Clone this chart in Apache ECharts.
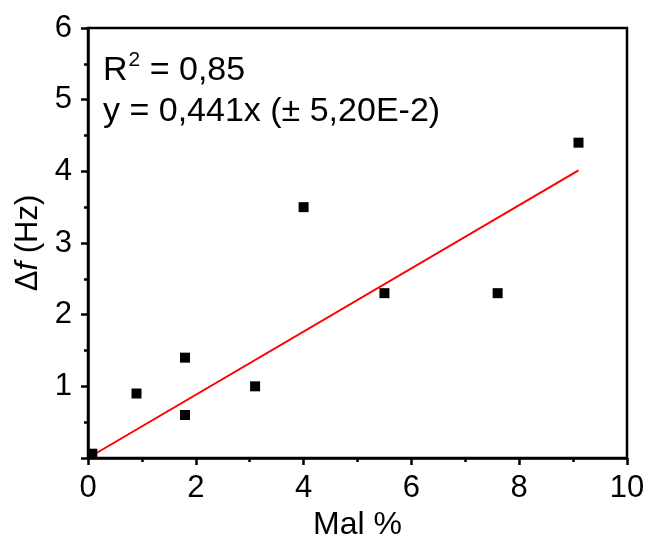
<!DOCTYPE html>
<html><head><meta charset="utf-8">
<script src="https://cdn.jsdelivr.net/npm/echarts@6/dist/echarts.min.js"></script>
<style>html,body{margin:0;padding:0;background:#fff}#c{width:651px;height:539px}</style>
</head><body><div id="c"></div>
<script>
const malPct = [0.08, 0.9, 1.8, 1.8, 3.1, 4.0, 5.5, 7.6, 9.1];
const deltaF = [0.06, 0.9, 1.4, 0.6, 1.0, 3.5, 2.3, 2.3, 4.4];
const slope = 0.441;
const fitRange = [0, 9.1];
const xTicks = [0, 2, 4, 6, 8, 10];
const yTicks = [1, 2, 3, 4, 5, 6];

const points = malPct.map((x, i) => [x, deltaF[i]]);
const fitLine = fitRange.map(x => [x, slope * x]);
const FONT = 'Liberation Sans, Arial, sans-serif';

const chart = echarts.init(document.getElementById('c'), null, {renderer: 'canvas'});
chart.setOption({
  animation: false,
  backgroundColor: '#fff',
  grid: {left: 88, top: 28, width: 539, height: 430, show: true, borderColor: '#000', borderWidth: 2.5,
         backgroundColor: 'transparent', containLabel: false, outerBoundsMode: 'none'},
  title: {
    left: 98, top: 45, itemGap: 0,
    text: '{a|R}{s|2}{a| = 0,85}\n{a|y = 0,441x (± 5,20E-2)}',
    textStyle: {
      fontWeight: 'normal',
      rich: {
        a: {fontFamily: FONT, fontSize: 34, fontWeight: 'normal', color: '#000', lineHeight: 41},
        s: {fontFamily: FONT, fontSize: 21, fontWeight: 'normal', color: '#000', verticalAlign: 'top', lineHeight: 41, padding: [0,0,14,1]}
      }
    }
  },
  xAxis: {
    type: 'value', min: 0, max: 10, interval: 2,
    name: 'Mal %', nameLocation: 'middle', nameGap: 51,
    nameTextStyle: {fontFamily: FONT, fontSize: 32, color: '#000'},
    axisLine: {onZero: false, lineStyle: {color: '#000', width: 2.5}},
    axisTick: {inside: false, length: 7, lineStyle: {color: '#000', width: 2.5}},
    minorTick: {show: true, splitNumber: 2, length: 4, lineStyle: {color: '#000', width: 2.5}},
    splitLine: {show: false},
    axisLabel: {fontFamily: FONT, fontSize: 31, color: '#000', margin: 15,
      formatter: v => xTicks.includes(v) ? String(v) : ''}
  },
  yAxis: {
    type: 'value', min: 0, max: 6, interval: 1,
    name: '{n|Δ}{i|f}{n| (Hz)}', nameLocation: 'middle', nameGap: 40, nameRotate: 90,
    nameTextStyle: {rich: {
      n: {fontFamily: FONT, fontSize: 31, color: '#000'},
      i: {fontFamily: FONT, fontSize: 31, color: '#000', fontStyle: 'italic'}
    }},
    axisLine: {onZero: false, lineStyle: {color: '#000', width: 2.5}},
    axisTick: {inside: false, length: 7, lineStyle: {color: '#000', width: 2.5}},
    minorTick: {show: true, splitNumber: 2, length: 4, lineStyle: {color: '#000', width: 2.5}},
    splitLine: {show: false},
    axisLabel: {fontFamily: FONT, fontSize: 31, color: '#000', margin: 16,
      formatter: v => yTicks.includes(v) ? String(v) : ''}
  },
  series: [
    {type: 'line', data: fitLine, showSymbol: false, symbol: 'none', lineStyle: {color: '#ff0000', width: 2}, z: 2, clip: true},
    {type: 'scatter', data: points, symbol: 'rect', symbolSize: 10, itemStyle: {color: '#000', opacity: 1}, z: 3, clip: true}
  ]
});
</script></body></html>
